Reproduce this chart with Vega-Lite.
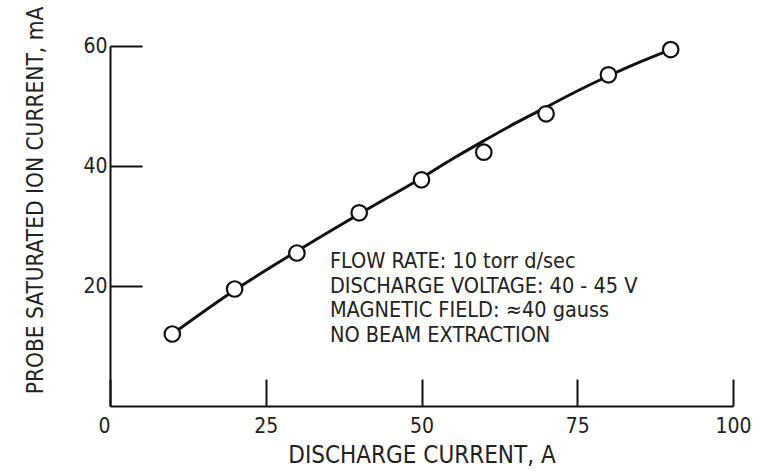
{
  "$schema": "https://vega.github.io/schema/vega-lite/v6.json",
  "autosize": "none",
  "width": 623,
  "height": 360,
  "padding": {"left": 110, "top": 46, "right": 32, "bottom": 70},
  "background": "white",
  "config": {
    "view": {"stroke": null},
    "font": "Liberation Sans Narrow, DejaVu Sans Condensed, sans-serif",
    "axis": {"grid": false, "domainColor": "#111", "tickColor": "#111", "labelColor": "#222", "titleColor": "#222", "domainWidth": 2, "tickWidth": 2, "labelFont": "Liberation Sans Narrow, DejaVu Sans Condensed, sans-serif", "titleFont": "Liberation Sans Narrow, DejaVu Sans Condensed, sans-serif", "titleFontWeight": "normal"}
  },
  "datasets": {
    "points": [
      {"current": 10, "ion": 12.0},
      {"current": 20, "ion": 19.5},
      {"current": 30, "ion": 25.5},
      {"current": 40, "ion": 32.2},
      {"current": 50, "ion": 37.7},
      {"current": 60, "ion": 42.3},
      {"current": 70, "ion": 48.7},
      {"current": 80, "ion": 55.2},
      {"current": 90, "ion": 59.4}
    ],
    "curve": [
      {"current": 10, "ion": 12.0},
      {"current": 20, "ion": 19.3},
      {"current": 30, "ion": 25.8},
      {"current": 40, "ion": 32.0},
      {"current": 50, "ion": 38.0},
      {"current": 55, "ion": 41.2},
      {"current": 60, "ion": 44.2},
      {"current": 65, "ion": 47.1},
      {"current": 70, "ion": 49.8},
      {"current": 75, "ion": 52.5},
      {"current": 80, "ion": 55.0},
      {"current": 85, "ion": 57.3},
      {"current": 90, "ion": 59.4}
    ],
    "notes": [
      {"current": 35.3, "ion": 24.0, "label": "FLOW RATE:  10 torr d/sec"},
      {"current": 35.3, "ion": 19.9, "label": "DISCHARGE VOLTAGE:  40 - 45 V"},
      {"current": 35.3, "ion": 15.8, "label": "MAGNETIC FIELD: ≈40 gauss"},
      {"current": 35.3, "ion": 11.7, "label": "NO BEAM EXTRACTION"}
    ]
  },
  "layer": [
    {
      "data": {"name": "curve"},
      "mark": {"type": "line", "interpolate": "monotone", "color": "#111", "strokeWidth": 3},
      "encoding": {
        "x": {"field": "current", "type": "quantitative", "scale": {"domain": [0, 100], "nice": false},
          "axis": {"values": [0, 25, 50, 75, 100], "tickSize": -27, "labelFontSize": 21, "labelPadding": 36, "labelAlign": {"condition": {"test": "datum.value === 0", "value": "right"}, "value": "center"}, "title": "DISCHARGE CURRENT, A", "titleFontSize": 24, "titleY": 49, "titleBaseline": "middle"}},
        "y": {"field": "ion", "type": "quantitative", "scale": {"domain": [0, 60], "nice": false},
          "axis": {"values": [20, 40, 60], "tickSize": -32, "labelFontSize": 21, "labelPadding": 35, "title": "PROBE SATURATED ION CURRENT, mA", "titleFontSize": 22.5, "titleX": -75, "titleY": 154, "titleBaseline": "middle", "titleAlign": "center"}}
      }
    },
    {
      "data": {"name": "points"},
      "mark": {"type": "point", "shape": "circle", "filled": true, "fill": "white", "stroke": "#111", "strokeWidth": 2.2, "size": 240, "opacity": 1},
      "encoding": {
        "x": {"field": "current", "type": "quantitative"},
        "y": {"field": "ion", "type": "quantitative"}
      }
    },
    {
      "data": {"name": "notes"},
      "mark": {"type": "text", "align": "left", "baseline": "middle", "fontSize": 21.5, "color": "#222"},
      "encoding": {
        "x": {"field": "current", "type": "quantitative"},
        "y": {"field": "ion", "type": "quantitative"},
        "text": {"field": "label"}
      }
    }
  ]
}
